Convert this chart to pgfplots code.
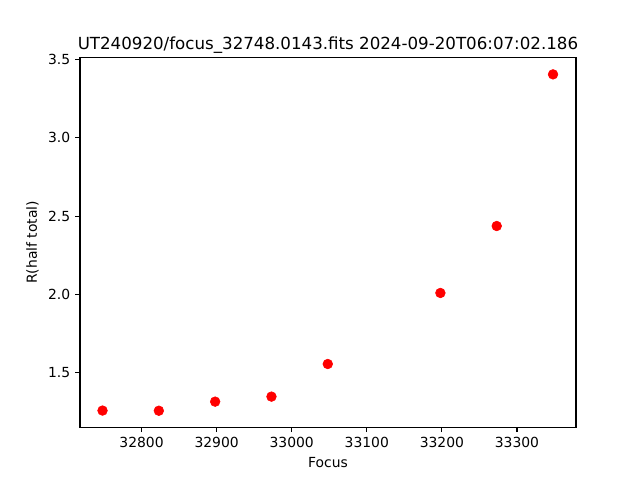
\documentclass[border=0pt]{standalone}
\usepackage{pgfplots}
\pgfplotsset{compat=1.18}
\usepackage{fontspec}
\setmainfont{DejaVu Sans}
\begin{document}
\begin{tikzpicture}
\path[fill=white] (0,0) rectangle (460.8pt,345.6pt);
\begin{axis}[
  at={(57.6pt,38.016pt)}, anchor=south west,
  scale only axis, width=357.12pt, height=266.112pt,
  xmin=32718.0, xmax=33378.6, ymin=1.154, ymax=3.511,
  xtick={32800,32900,33000,33100,33200,33300},
  ytick={1.5,2.0,2.5,3.0,3.5},
  tick align=outside, major tick length=3.5pt,
  xtick pos=bottom, ytick pos=left,
  /pgf/number format/assume math mode=true,
  x tick label style={/pgf/number format/1000 sep={}, /pgf/number format/fixed},
  y tick label style={/pgf/number format/fixed, /pgf/number format/fixed zerofill, /pgf/number format/precision=1},
  scaled x ticks=false,
  tick label style={font=\fontsize{10}{12}\selectfont},
  label style={font=\fontsize{10}{12}\selectfont},
  xlabel={Focus}, ylabel={R(half total)},
  title={UT240920/focus\_32748.0143.fits 2024-09-20T06:07:02.186},
  title style={font=\fontsize{12}{14}\selectfont, at={(0.5,1)}, anchor=base},
  axis line style={line width=0.8pt},
  every tick/.style={line width=0.8pt, black},
]
\addplot[only marks, mark=*, mark size=3.5pt, color=red, mark options={fill=red, draw=red}] coordinates {
(32748,1.260) (32823,1.259) (32898,1.317) (32973,1.349) (33048,1.557) (33198,2.010) (33273,2.437) (33348,3.404)
};
\end{axis}
\end{tikzpicture}
\end{document}
